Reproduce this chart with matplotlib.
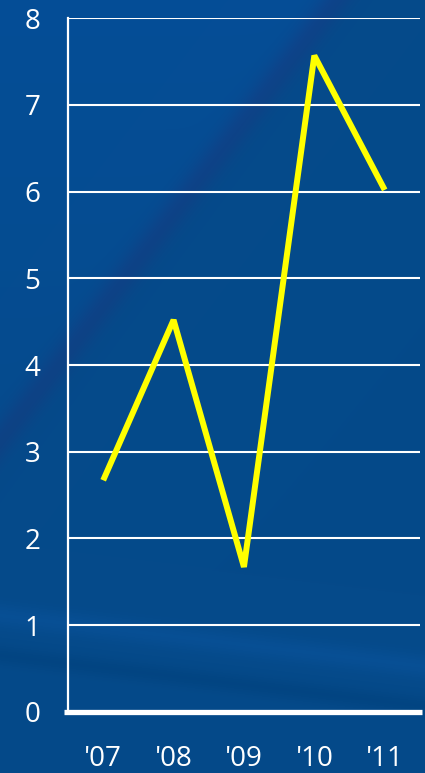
import numpy as np
import matplotlib.pyplot as plt

years = ["'07", "'08", "'09", "'10", "'11"]
values = [2.67, 4.52, 1.67, 7.57, 6.02]
yticks = [0, 1, 2, 3, 4, 5, 6, 7, 8]

plt.rcParams['font.family'] = ['Open Sans', 'DejaVu Sans']

fig = plt.figure(figsize=(4.25, 7.73), dpi=100)

# background: blue with a dark diagonal streak
h, w = 773, 425
yy, xx = np.mgrid[0:h, 0:w]
base = np.array([5, 74, 138]) / 255.0
img = np.ones((h, w, 3)) * base
# signed distance from the diagonal streak (335,0)-(0,440)
d = (xx * 440 + yy * 335 - 335 * 440) / np.hypot(440, 335)
streak = np.exp(-(d / 14.0) ** 2)
img = img * (1 - 0.25 * streak[..., None]) + np.array([40, 40, 110]) / 255.0 * 0.25 * streak[..., None]
upper = 1 / (1 + np.exp(d / 8.0))
img = img + np.array([0.0, 0.015, 0.05]) * (upper * np.clip(1 - yy / 600.0, 0, 1))[..., None]
# soft band near bottom
b = yy - (615 + xx * 0.12)
img = img + np.array([0.01, 0.02, 0.04]) * np.exp(-(b / 12.0) ** 2)[..., None]
img = img - np.array([0.01, 0.02, 0.03]) * np.exp(-((b - 40) / 10.0) ** 2)[..., None]
bg = fig.add_axes([0, 0, 1, 1], zorder=-1)
bg.imshow(np.clip(img, 0, 1), aspect='auto')
bg.axis('off')

ax = fig.add_axes([0.16, 0.0793, 0.828, 0.897])
ax.patch.set_alpha(0)
x = np.arange(len(years))
ax.plot(x, values, color='#ffff00', lw=4.3, solid_joinstyle='bevel',
        solid_capstyle='butt', zorder=3)

ax.set_xlim(-0.5, len(years) - 0.5)
ax.set_ylim(0, 8)
ax.set_yticks(yticks)
ax.set_xticks(x)
ax.set_xticklabels(years)
ax.grid(axis='y', color='white', lw=1.5)
ax.set_axisbelow(True)

for s in ['top', 'right', 'bottom']:
    ax.spines[s].set_visible(False)
ax.spines['left'].set_color('white')
ax.spines['left'].set_linewidth(1.6)
ax.plot([-0.01, 1.005], [0, 0], transform=ax.transAxes, color='white',
        lw=3.8, clip_on=False, zorder=4, solid_capstyle='butt')

ax.tick_params(axis='both', length=0, colors='white', labelsize=20)
ax.tick_params(axis='y', pad=20)
ax.tick_params(axis='x', pad=24)

fig.savefig('out.png', dpi=100)
